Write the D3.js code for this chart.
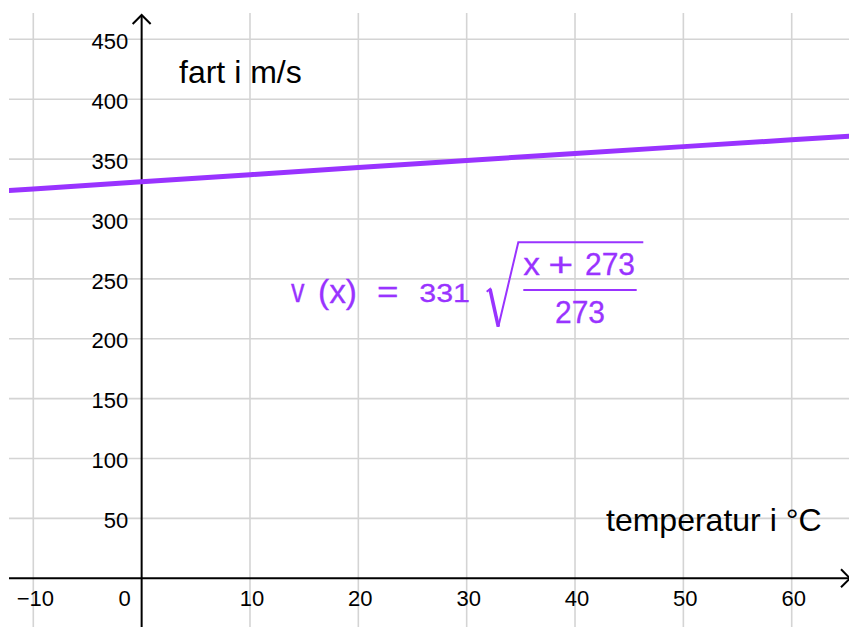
<!DOCTYPE html>
<html>
<head>
<meta charset="utf-8">
<script src="https://cdn.jsdelivr.net/npm/d3@7"></script>
<style>
  html, body { margin: 0; padding: 0; background: #fff; }
  svg { display: block; }
  text { font-family: "Liberation Sans", Arial, sans-serif; }
</style>
</head>
<body>
<svg id="chart" width="849" height="627"></svg>
<script>
// ---- data ----
const temperatures = [-12.5, -10, 0, 10, 20, 30, 40, 50, 60, 65.5];
const speeds = [323.6, 325.0, 331.0, 337.0, 342.9, 348.8, 354.7, 360.4, 366.1, 369.2];
const xTicks = [-10, 0, 10, 20, 30, 40, 50, 60];
const yTicks = [50, 100, 150, 200, 250, 300, 350, 400, 450];
const xTitle = "temperatur i °C";
const yTitle = "fart i m/s";

(function () {
const W = 849, H = 627;
const svg = d3.select("#chart");
const purple = "#9933ff";

const x = d3.scaleLinear().domain([-10, 60]).range([33.3, 791.7]);
const y = d3.scaleLinear().domain([0, 450]).range([578.3, 39.3]);

const plotLeft = 9, plotTop = 13;

// clip
svg.append("defs").append("clipPath").attr("id", "plotClip")
  .append("rect").attr("x", plotLeft).attr("y", plotTop).attr("width", W - plotLeft).attr("height", H - plotTop);

// grid
const grid = svg.append("g").attr("stroke", "#d4d4d4").attr("stroke-width", 1.6);
grid.selectAll("line.v").data(xTicks.filter(d => d !== 0)).join("line").attr("class", "v")
  .attr("x1", d => x(d)).attr("x2", d => x(d)).attr("y1", plotTop).attr("y2", H);
grid.selectAll("line.h").data(yTicks).join("line").attr("class", "h")
  .attr("x1", plotLeft).attr("x2", W).attr("y1", d => y(d)).attr("y2", d => y(d));

// axes lines with arrows
const axes = svg.append("g").attr("stroke", "#000").attr("stroke-width", 2).attr("fill", "none");
axes.append("line").attr("x1", plotLeft).attr("x2", 850).attr("y1", y(0)).attr("y2", y(0));
axes.append("path").attr("d", `M${841},${y(0) - 9}L${850},${y(0)}L${841},${y(0) + 9}`);
axes.append("line").attr("x1", x(0)).attr("x2", x(0)).attr("y1", H).attr("y2", 15);
axes.append("path").attr("d", `M${x(0) - 9},${24}L${x(0)},${15}L${x(0) + 9},${24}`);

// tick labels via d3 axes
const xAxis = d3.axisBottom(x).tickValues(xTicks).tickSize(0).tickPadding(12.5);
const gx = svg.append("g").attr("transform", `translate(0,${y(0)})`).call(xAxis);
gx.select(".domain").remove();
gx.attr("font-size", 22).attr("font-family", "Liberation Sans, Arial, sans-serif");
gx.selectAll("text").attr("fill", "#000").attr("dx", 1.5);
gx.selectAll(".tick").filter(d => d === 0).select("text")
  .attr("text-anchor", "end").attr("dx", -11.5);

const yAxis = d3.axisLeft(y).tickValues(yTicks).tickSize(0).tickPadding(13.4);
const gy = svg.append("g").attr("transform", `translate(${x(0)},0)`).call(yAxis);
gy.select(".domain").remove();
gy.attr("font-size", 22).attr("font-family", "Liberation Sans, Arial, sans-serif");
gy.selectAll("text").attr("fill", "#000").attr("dy", "0.42em");

// function curve
const line = d3.line().x((d, i) => x(temperatures[i])).y(d => y(d));
svg.append("path").datum(speeds)
  .attr("clip-path", "url(#plotClip)")
  .attr("d", line).attr("fill", "none").attr("stroke", purple).attr("stroke-width", 5);

// axis titles
svg.append("text").attr("x", 179).attr("y", 83.3).attr("font-size", 32).attr("fill", "#000").text(yTitle);
svg.append("text").attr("x", 606).attr("y", 531).attr("font-size", 32).attr("fill", "#000").text(xTitle);

// formula annotation
const f = svg.append("g").attr("fill", purple).attr("stroke", purple).attr("stroke-width", 0.3);
const parts = [
  { t: "v", x: 291, y: 301.5, w: 13.5, s: 33 },
  { t: "(x)", x: 318, y: 302.5, w: 39, s: 33 },
  { t: "=", x: 377, y: 302, w: 21.5, s: 30 },
  { t: "331", x: 419.3, y: 301.5, w: 50.7, s: 26.5 },
  { t: "x", x: 523.3, y: 275, w: 16.7, s: 32 },
  { t: "+", x: 548.3, y: 276, w: 25, s: 34 },
  { t: "273", x: 585, y: 275, w: 50, s: 32 },
  { t: "273", x: 555, y: 323.3, w: 50, s: 32 }
];
f.selectAll("text").data(parts).join("text")
  .attr("x", d => d.x).attr("y", d => d.y)
  .attr("font-size", d => d.s)
  .attr("textLength", d => d.w).attr("lengthAdjust", "spacingAndGlyphs")
  .text(d => d.t);
f.append("line").attr("x1", 523.3).attr("x2", 636.7).attr("y1", 290).attr("y2", 290)
  .attr("stroke", purple).attr("stroke-width", 2);
f.append("path")
  .attr("d", "M486.7,291.7L490,289L498.3,326.7L518.3,242.3L643.3,242.3")
  .attr("fill", "none").attr("stroke", purple).attr("stroke-width", 2).attr("stroke-linejoin", "miter");
f.append("path")
  .attr("d", "M490,289L498.3,326.7")
  .attr("fill", "none").attr("stroke", purple).attr("stroke-width", 3.5);
})();
</script>
</body>
</html>
